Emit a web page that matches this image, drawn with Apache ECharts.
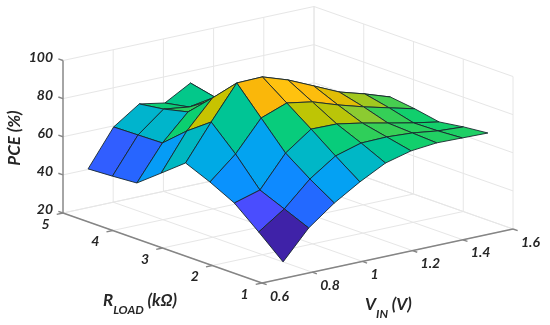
<!DOCTYPE html>
<html>
<head>
<meta charset="utf-8">
<style>html,body{margin:0;padding:0;background:#fff}#c{width:550px;height:325px}</style>
<script src="https://cdn.jsdelivr.net/npm/echarts@6/dist/echarts.min.js"></script>
</head>
<body>
<div id="c"></div>
<script>
// ---- values ----
const rLoad = [1, 1.49, 1.98, 2.47, 2.96, 3.45, 3.94, 4.43, 4.92];
const vIn = [0.684, 0.786, 0.888, 0.99, 1.092, 1.194, 1.296, 1.398, 1.5];
const pceR0 = [28.7, 43.6, 53.8, 62, 69, 72.5, 73.8, 73.5, 73.2];
const pceR1 = [39.9, 49.1, 61.9, 71.1, 75, 75.3, 74.5, 72.7, 71.9];
const pceR2 = [50.6, 54.5, 71, 80.7, 80.5, 78.1, 75.2, 72.4, 70];
const pceR3 = [57.1, 68.9, 84.9, 89.9, 87.6, 83.1, 79.2, 75.8, 72.4];
const pceR4 = [62.6, 81.2, 98.8, 99.1, 94.6, 88.6, 82.5, 78.6, 74.1];
const pceR5 = [52.8, 72, 86.4, 85, 80, 76, 74, 72, 70];
const pceR6 = [43.1, 61.2, 74.6, 78, 76, 70, 68, 67, 66];
const pceR7 = [42.2, 60.9, 71.6, 69.8, 72.1, 65, 62, 62, 62];
const pceR8 = [41.5, 60.6, 69.8, 67.4, 75, 60, 58, 58, 58];
const rTicks = [1, 2, 3, 4, 5];
const vTicks = [0.6, 0.8, 1, 1.2, 1.4, 1.6];
const zTicks = [20, 40, 60, 80, 100];
const rTitle = ['R', 'LOAD', ' (k\u03A9)'];
const vTitle = ['V', 'IN', ' (V)'];
const zTitle = 'PCE (%)';

// ---- view of the 3D box on the page ----
const view = {x0: 262, y0: 283, rx: -49.75, ry: -17.5, vx: 251, vy: -54, zy: -1.906};
const project = (r, v, z) => [
  view.x0 + view.rx * (r - 1) + view.vx * (v - 0.6),
  view.y0 + view.ry * (r - 1) + view.vy * (v - 0.6) + view.zy * (z - 20)
];
const pce = [pceR0, pceR1, pceR2, pceR3, pceR4, pceR5, pceR6, pceR7, pceR8];
const stops = [[28, '#3e1fa3'], [40, '#4a4dff'], [43.5, '#2368ff'], [50, '#0b8fff'], [54, '#04a2f2'], [57, '#00aae6'],
  [62, '#00b7c6'], [69, '#00c594'], [72, '#0ccf70'], [75, '#2fcf5a'], [78, '#8acb33'], [81, '#c4c400'],
  [85, '#fbb70a'], [90, '#ffc20f'], [100, '#ffd020']];
function colorOf(z) {
  for (let k = 1; k < stops.length; k++) {
    if (z <= stops[k][0]) {
      const t = (z - stops[k - 1][0]) / (stops[k][0] - stops[k - 1][0]);
      return echarts.color.lerp(Math.max(0, t), [stops[k - 1][1], stops[k][1]]);
    }
  }
  return stops[stops.length - 1][1];
}
const rMin = rTicks[0], rMax = rTicks[4], vMin = vTicks[0], vMax = vTicks[5], zMin = zTicks[0], zMax = zTicks[4];

// wall and floor grid lines: [r1,v1,z1,r2,v2,z2]
const gridLines = [];
vTicks.forEach(v => {
  gridLines.push([rMax, v, zMin, rMax, v, zMax]);
  gridLines.push([rMin, v, zMin, rMax, v, zMin]);
});
rTicks.forEach(r => {
  gridLines.push([r, vMax, zMin, r, vMax, zMax]);
  gridLines.push([r, vMin, zMin, r, vMax, zMin]);
});
zTicks.forEach(z => {
  gridLines.push([rMax, vMin, z, rMax, vMax, z]);
  gridLines.push([rMin, vMax, z, rMax, vMax, z]);
});
const axisLines = [
  [rMax, vMin, zMin, rMax, vMin, zMax],
  [rMin, vMin, zMin, rMax, vMin, zMin],
  [rMin, vMin, zMin, rMin, vMax, zMin]
];
const tickR = 0.125, tickV = 0.025;
rTicks.forEach(r => axisLines.push([r, vMin, zMin, r, vMin - tickV, zMin]));
vTicks.forEach(v => axisLines.push([rMin, v, zMin, rMin - tickR * 0.75, v, zMin]));
zTicks.forEach(z => axisLines.push([rMax, vMin, z, rMax + tickR * 0.75, vMin, z]));

// mesh cells, far ones first
const cells = [];
for (let j = rLoad.length - 2; j >= 0; j--) {
  for (let i = vIn.length - 2; i >= 0; i--) cells.push([i, j]);
}

const font = 'italic bold 14px Lato';
const ink = '#262626';
function labelEl(text, p, dx, dy, align) {
  return {type: 'text', silent: true, style: {text: String(text), x: p[0] + dx, y: p[1] + dy, font: font, fill: ink, align: align, verticalAlign: 'middle'}};
}
const labels = [];
rTicks.forEach(r => labels.push({text: r, at: [r, vMin, zMin], dx: -17.5, dy: 11, align: 'center'}));
vTicks.forEach(v => labels.push({text: v, at: [rMin, v, zMin], dx: 8, dy: 13, align: 'left'}));
zTicks.forEach(z => labels.push({text: z, at: [rMax, vMin, z], dx: -10, dy: -3.5, align: 'right'}));

function lineSeries(name, data, color, width) {
  return {
    type: 'custom', name, coordinateSystem: 'cartesian2d', silent: true, clip: false, data,
    renderItem(params, api) {
      const a = api.coord(project(api.value(0), api.value(1), api.value(2)));
      const b = api.coord(project(api.value(3), api.value(4), api.value(5)));
      return {type: 'line', silent: true, shape: {x1: a[0], y1: a[1], x2: b[0], y2: b[1]}, style: {stroke: color, lineWidth: width, fill: null}};
    }
  };
}
const titleRich = {
  a: {font: 'italic bold 17px Lato', fill: ink, lineHeight: 24, verticalAlign: 'top'},
  b: {font: 'italic bold 12px Lato', fill: ink, lineHeight: 24, verticalAlign: 'bottom'}
};

const chart = echarts.init(document.getElementById('c'), null, {renderer: 'canvas'});
chart.setOption({
  animation: false,
  backgroundColor: '#fff',
  grid: {left: 0, right: 0, top: 0, bottom: 0},
  xAxis: {type: 'value', min: 0, max: 550, show: false},
  yAxis: {type: 'value', min: 0, max: 325, inverse: true, show: false},
  series: [
    lineSeries('grid', gridLines, '#e6e6e6', 1),
    lineSeries('axes', axisLines, '#858585', 1.4),
    {
      type: 'custom', name: 'surface', coordinateSystem: 'cartesian2d', silent: true, clip: false, data: cells,
      renderItem(params, api) {
        const i = api.value(0), j = api.value(1);
        const corner = (a, b) => api.coord(project(rLoad[b], vIn[a], pce[b][a]));
        return {
          type: 'polygon', silent: true,
          shape: {points: [corner(i, j), corner(i + 1, j), corner(i + 1, j + 1), corner(i, j + 1)]},
          style: {fill: colorOf(pce[j][i]), stroke: '#17282e', lineWidth: 0.9, lineJoin: 'round'}
        };
      }
    },
    {
      type: 'custom', name: 'tick labels', coordinateSystem: 'cartesian2d', silent: true, clip: false,
      data: labels.map((l, k) => [k]),
      renderItem(params, api) {
        const l = labels[api.value(0)];
        return labelEl(l.text, api.coord(project(l.at[0], l.at[1], l.at[2])), l.dx, l.dy, l.align);
      }
    }
  ],
  graphic: [
    {type: 'text', x: 15, y: 138, rotation: Math.PI / 2, silent: true,
      style: {text: zTitle, font: 'italic bold 17px Lato', fill: ink, align: 'center', verticalAlign: 'middle'}},
    {type: 'text', x: 103, y: 292, silent: true,
      style: {text: '{a|' + rTitle[0] + '}{b|' + rTitle[1] + '}{a|' + rTitle[2] + '}', rich: titleRich}},
    {type: 'text', x: 365, y: 296, silent: true,
      style: {text: '{a|' + vTitle[0] + '}{b|' + vTitle[1] + '}{a|' + vTitle[2] + '}', rich: titleRich}}
  ]
});
</script>
</body>
</html>
